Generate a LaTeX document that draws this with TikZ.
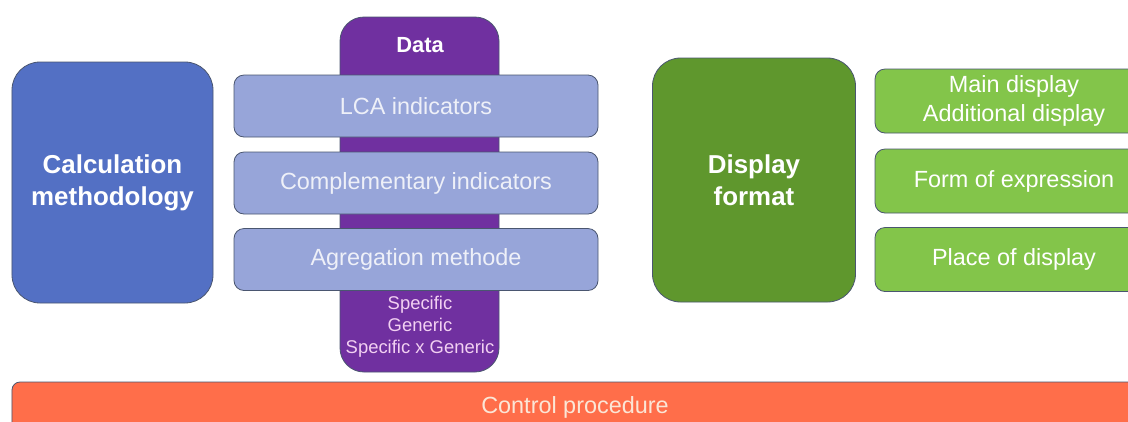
\documentclass[tikz,border=0pt]{standalone}
\usepackage{fontspec}
\setmainfont{Liberation Sans}
\definecolor{calcblue}{HTML}{5370C4}
\definecolor{datapurple}{HTML}{7030A0}
\definecolor{lavbox}{HTML}{97A5D9}
\definecolor{darkgreen}{HTML}{5F972D}
\definecolor{lightgreen}{HTML}{83C54A}
\definecolor{ctrlorange}{HTML}{FF6E4A}
\definecolor{edge}{HTML}{4A5670}
\definecolor{pinktext}{HTML}{F2D0F2}
\definecolor{paletext}{HTML}{EEF0F8}
\definecolor{peachtext}{HTML}{FBE6D6}
\tikzset{
  base/.style={draw=edge, line width=0.8pt, inner sep=0pt, align=center, text=white},
  bigbox/.style={base, rounded corners=28bp, font=\fontsize{26}{32}\selectfont\bfseries},
  itembox/.style={base, rounded corners=10bp, font=\fontsize{23.5}{29.5}\selectfont},
}
\begin{document}
\begin{tikzpicture}[x=1bp,y=-1bp]
\useasboundingbox (0,0) rectangle (1128,421);
\clip (0,0) rectangle (1128,421);
\fill[white] (0,0) rectangle (1128,421);
% calculation methodology
\node[bigbox, fill=calcblue, minimum width=201bp, minimum height=241bp] (calc) at (112.5,182.5) {Calculation\\methodology};
% data column
\node[base, fill=datapurple, rounded corners=24bp, minimum width=159bp, minimum height=355bp] (data) at (419.5,194.5) {};
\node[text=white, font=\fontsize{22}{26}\selectfont\bfseries, inner sep=0pt] (datalabel) at (420,45) {Data};
\node[itembox, fill=lavbox, text=paletext, minimum width=364bp, minimum height=62bp] (lca) at (416,106) {LCA indicators};
\node[itembox, fill=lavbox, text=paletext, minimum width=364bp, minimum height=62bp] (comp) at (416,183) {Complementary indicators};
\node[itembox, fill=lavbox, text=paletext, minimum width=364bp, minimum height=62bp] (agg) at (416,259.5) {Agregation methode};
\node[text=pinktext, align=center, inner sep=0pt, font=\fontsize{18.5}{22}\selectfont] (kinds) at (420,327) {Specific\\Generic\\Specific x Generic};
% display format
\node[bigbox, fill=darkgreen, minimum width=203bp, minimum height=244bp] (disp) at (754,180) {Display\\format};
\node[itembox, fill=lightgreen, text=white, minimum width=278bp, minimum height=64bp] (main) at (1014,101) {Main display\\Additional display};
\node[itembox, fill=lightgreen, text=white, minimum width=278bp, minimum height=64bp] (form) at (1014,181) {Form of expression};
\node[itembox, fill=lightgreen, text=white, minimum width=278bp, minimum height=64bp] (place) at (1014,259.5) {Place of display};
% control procedure
\node[itembox, rounded corners=8bp, fill=ctrlorange, text=peachtext, minimum width=1126bp, minimum height=52bp] (ctrl) at (575,408) {};
\node[text=peachtext, inner sep=0pt, font=\fontsize{23.5}{28}\selectfont] (ctrltext) at (575,407) {Control procedure};
\end{tikzpicture}
\end{document}
